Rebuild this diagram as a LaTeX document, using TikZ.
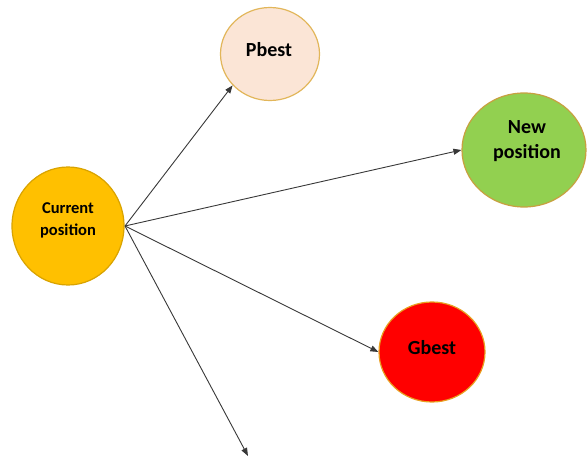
\documentclass[tikz,border=0pt]{standalone}
\usepackage{fontspec}
\setmainfont{Carlito}
\usetikzlibrary{shapes.geometric,arrows.meta}
\definecolor{curfill}{HTML}{FFC000}
\definecolor{curedge}{HTML}{D9A300}
\definecolor{pfill}{HTML}{FBE5D6}
\definecolor{pedge}{HTML}{E2B65A}
\definecolor{nfill}{HTML}{92D050}
\definecolor{nedge}{HTML}{C8A040}
\definecolor{gfill}{HTML}{FF0000}
\definecolor{gedge}{HTML}{E8A020}
\definecolor{arr}{HTML}{383838}
\tikzset{
  blob/.style={ellipse, draw, line width=1.2pt, inner sep=0pt},
  lbl/.style={align=center, text=black},
  link/.style={draw=arr, line width=0.9pt, -{Triangle[length=8pt,width=6pt]}}
}
\begin{document}
\begin{tikzpicture}[x=1pt,y=-1pt]
  \useasboundingbox (0,0) rectangle (587,462);
  % circles
  \node[blob, fill=curfill, draw=curedge, minimum width=112pt, minimum height=118pt] (cur) at (68,226) {};
  \node[blob, fill=pfill, draw=pedge, minimum width=99pt, minimum height=93pt] (pb) at (270,54) {};
  \node[blob, fill=nfill, draw=nedge, minimum width=124pt, minimum height=114pt] (np) at (524,150) {};
  \node[blob, fill=gfill, draw=gedge, minimum width=106pt, minimum height=100pt] (gb) at (432,352) {};
  % labels
  \node[lbl, font=\bfseries\fontsize{16.5}{22}\selectfont] at (68,220) {Current\\position};
  \node[lbl, font=\bfseries\fontsize{20}{24}\selectfont] at (269,50) {Pbest};
  \node[lbl, font=\bfseries\fontsize{20}{25}\selectfont] at (527,141) {New\\position};
  \node[lbl, font=\bfseries\fontsize{20}{24}\selectfont] at (432,348) {Gbest};
  % connectors
  \coordinate (o) at (125,226);
  \coordinate (free) at (248,456);
  \draw[link] (o) -- (pb.220);
  \draw[link] (o) -- (np.west);
  \draw[link] (o) -- (gb.west);
  \draw[link] (o) -- (free);
\end{tikzpicture}
\end{document}
